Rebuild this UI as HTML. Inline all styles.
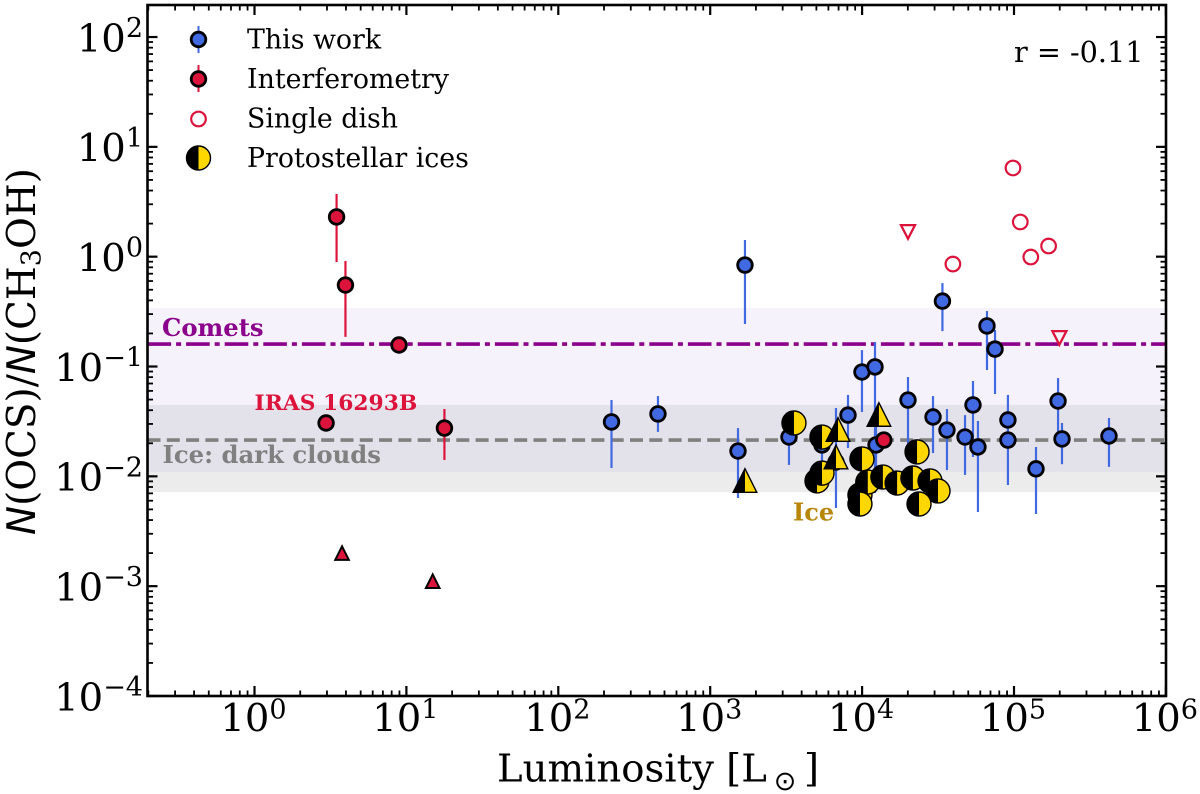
<!DOCTYPE html>
<html lang="en">
<head>
<meta charset="utf-8">
<title>N(OCS)/N(CH3OH) vs Luminosity</title>
<style>
html,body{margin:0;padding:0;background:#fff;}
svg{display:block;}
text{font-family:"DejaVu Serif","Liberation Serif",serif;fill:#000;}
</style>
</head>
<body>
<svg id="chart" xmlns="http://www.w3.org/2000/svg" width="1200" height="794" viewBox="0 0 1200 794">
  <rect x="0" y="0" width="1200" height="794" fill="#fff"/>
  <g id="bands"></g>
  <g id="reflines"></g>
  <g id="errs"></g>
  <g id="marks"></g>
  <g id="annotations">
    <text x="162" y="336" font-size="24.3" font-weight="bold" style="fill:#8b008b">Comets</text>
    <text x="162.5" y="463" font-size="24.3" font-weight="bold" style="fill:#808080">Ice: dark clouds</text>
    <text x="254.5" y="410" font-size="21.8" font-weight="bold" style="fill:#dc143c">IRAS 16293B</text>
    <text x="793" y="520.5" font-size="24" font-weight="bold" style="fill:#b8860b">Ice</text>
    <text x="1014" y="62" font-size="28.7">r = -0.11</text>
  </g>
  <g id="legend">
    <text x="247" y="48.5" font-size="26.8">This work</text>
    <text x="247" y="88" font-size="26.8">Interferometry</text>
    <text x="247" y="127.5" font-size="26.8">Single dish</text>
    <text x="247" y="167" font-size="26.8">Protostellar ices</text>
  </g>
  <g id="axes"></g>
  <text x="497" y="781.5" font-size="38.6">Luminosity [L</text>
  <text x="785" y="790" font-size="27" text-anchor="middle" style="font-family:'DejaVu Sans',sans-serif">&#8857;</text>
  <text x="804" y="781.5" font-size="38.6">]</text>
  <text transform="translate(35,535) rotate(-90)" font-size="38.9"><tspan font-style="italic" style="font-family:'DejaVu Sans',sans-serif">N</tspan>(OCS)/<tspan font-style="italic" style="font-family:'DejaVu Sans',sans-serif">N</tspan>(CH<tspan dy="5.5" font-size="27">3</tspan><tspan dy="-5.5">OH)</tspan></text>
</svg>
<script>
// ---- data (luminosity in Lsun, ratio N(OCS)/N(CH3OH)) ----
const blueL  = [224,453,1524,3300,5445,6730,8075,9980,12160,12350,20050,29300,36200,47600,53700,57900,91200,91200,139600,195000,207000,422000,33800,66400,75000,1694];
const blueR  = [0.0313,0.0370,0.0170,0.0228,0.0193,0.0135,0.0361,0.0891,0.0991,0.0193,0.0495,0.0347,0.0264,0.0228,0.0447,0.0185,0.0326,0.0214,0.0117,0.0485,0.0219,0.0233,0.394,0.234,0.144,0.839];
const blueHi = [0.0495,0.0538,0.0275,0.0326,0.0293,0.0419,0.0551,0.141,0.167,0.0293,0.0802,0.0538,0.0410,0.0361,0.0738,0.0319,0.0551,0.0326,0.0185,0.0785,0.0306,0.0340,0.575,0.320,0.215,1.42];
const blueLo = [0.0119,0.0254,0.00635,0.0127,0.00927,0.00515,0.0181,0.0385,0.00705,0.00927,0.0193,0.0163,0.0114,0.0103,0.0150,0.00473,0.0214,0.00834,0.00454,0.0248,0.0129,0.0122,0.210,0.0929,0.0562,0.244];

const redL  = [3.47,3.97,8.94,2.96,17.8,13900];
const redR  = [2.30,0.552,0.157,0.0306,0.0275,0.0214];
const redHi = [3.72,0.914,0.182,0.0306,0.0410,0.0214];
const redLo = [0.895,0.186,0.136,0.0306,0.0141,0.0214];

const redLimitL = [3.77,14.9];
const redLimitR = [0.00200,0.00111];

const dishL = [98500,110000,129000,169000,39600];
const dishR = [6.42,2.07,0.993,1.25,0.857];

const dishLimitL = [20050,199000];
const dishLimitR = [1.68,0.182];

const iceL = [3560,5445,5050,5445,9980,9680,10900,9680,13700,17000,21600,23000,28000,31600,23700];
const iceR = [0.0306,0.0228,0.00908,0.0107,0.0144,0.00676,0.00887,0.00560,0.00986,0.00869,0.00966,0.0167,0.00908,0.00736,0.00560];

const iceTriL = [1694,6940,6730,12900];
const iceTriR = [0.00916,0.0267,0.0150,0.0366];

const cometBand = [0.0110,0.341];
const cloudBand = [0.00719,0.0447];
const cometLine = [0.160];
const cloudLine = [0.0214];

const xTickExps = [0,1,2,3,4,5,6];
const yTickExps = [-4,-3,-2,-1,0,1,2];
const minorMultipliers = [2,3,4,5,6,7,8,9];

// ---- axes ----
const plotLeft = 147.5, plotRight = 1166, plotTop = 5, plotBottom = 696;
function xAt(v){ return 254.5 + 151.9 * Math.log10(v); }
function yAt(v){ return 696 - 109.83 * (Math.log10(v) + 4); }

const NS = 'http://www.w3.org/2000/svg';
function mk(tag, attrs, parent){
  const el = document.createElementNS(NS, tag);
  for (const k in attrs) el.setAttribute(k, attrs[k]);
  parent.appendChild(el);
  return el;
}
const bandsG = document.getElementById('bands');
const linesG = document.getElementById('reflines');
const errsG = document.getElementById('errs');
const marksG = document.getElementById('marks');
const axesG = document.getElementById('axes');
const legendG = document.getElementById('legend');

const BLUE = '#4169e1', RED = '#dc143c', GOLD = '#ffd700';
const PT_R = 7.3, PT_SW = 2.8;

function bandRect(range, fill, opacity, parent){
  return mk('rect', {x: plotLeft, width: plotRight - plotLeft, y: yAt(range[1]), height: yAt(range[0]) - yAt(range[1]), fill: fill, 'fill-opacity': opacity}, parent);
}
const cometBandEl = bandRect(cometBand, '#9370db', 0.09, bandsG);


const cloudBandEl = bandRect(cloudBand, '#808080', 0.15, bandsG);



const cometLineEl = mk('line', {x1: plotLeft, x2: plotRight, y1: yAt(cometLine[0]), y2: yAt(cometLine[0]), stroke: '#8b008b', 'stroke-width': 3.6, 'stroke-dasharray': '23.6 5 5 5'}, linesG);


const cloudLineEl = mk('line', {x1: plotLeft, x2: plotRight, y1: yAt(cloudLine[0]), y2: yAt(cloudLine[0]), stroke: '#808080', 'stroke-width': 3.6, 'stroke-dasharray': '13 6.3'}, linesG);



// ---- marker helpers ----
function circle(cx, cy, r, fill, stroke, sw, parent){
  return mk('circle', {cx: cx, cy: cy, r: r, fill: fill, stroke: stroke, 'stroke-width': sw}, parent);
}
function triUp(cx, cy, h, w, fill, stroke, sw, parent){
  return mk('path', {d: 'M' + cx + ' ' + (cy - h) + 'L' + (cx - w) + ' ' + (cy + h) + 'L' + (cx + w) + ' ' + (cy + h) + 'Z', fill: fill, stroke: stroke, 'stroke-width': sw, 'stroke-linejoin': 'miter'}, parent);
}
function triDown(cx, cy, h, w, fill, stroke, sw, parent){
  return mk('path', {d: 'M' + (cx - w) + ' ' + (cy - h) + 'L' + (cx + w) + ' ' + (cy - h) + 'L' + cx + ' ' + (cy + h) + 'Z', fill: fill, stroke: stroke, 'stroke-width': sw, 'stroke-linejoin': 'miter'}, parent);
}
function halfCircle(cx, cy, r, parent){
  const g = mk('g', {}, parent);
  mk('circle', {cx: cx, cy: cy, r: r, fill: GOLD}, g);
  mk('path', {d: 'M' + cx + ' ' + (cy - r) + 'A' + r + ' ' + r + ' 0 0 0 ' + cx + ' ' + (cy + r) + 'Z', fill: '#000'}, g);
  mk('circle', {cx: cx, cy: cy, r: r, fill: 'none', stroke: '#000', 'stroke-width': 1.4}, g);
  return g;
}
function halfTriangle(cx, cy, parent){
  const g = mk('g', {}, parent);
  const h = 11.8, w = 11.8;
  mk('path', {d: 'M' + cx + ' ' + (cy - h) + 'L' + (cx + w) + ' ' + (cy + h) + 'L' + cx + ' ' + (cy + h) + 'Z', fill: GOLD}, g);
  mk('path', {d: 'M' + cx + ' ' + (cy - h) + 'L' + (cx - w) + ' ' + (cy + h) + 'L' + cx + ' ' + (cy + h) + 'Z', fill: '#000'}, g);
  mk('path', {d: 'M' + cx + ' ' + (cy - h) + 'L' + (cx - w) + ' ' + (cy + h) + 'L' + (cx + w) + ' ' + (cy + h) + 'Z', fill: 'none', stroke: '#000', 'stroke-width': 1.4}, g);
  return g;
}

// ---- series ----
for (let i = 0; i < blueL.length; i++) {
  const e = mk('line', {x1: xAt(blueL[i]), x2: xAt(blueL[i]), y1: yAt(blueHi[i]), y2: yAt(blueLo[i]), stroke: BLUE, 'stroke-width': 2.2}, errsG);
  
  
}
for (let i = 0; i < redL.length; i++) {
  const e = mk('line', {x1: xAt(redL[i]), x2: xAt(redL[i]), y1: yAt(redHi[i]), y2: yAt(redLo[i]), stroke: RED, 'stroke-width': 2.2}, errsG);
  
  
}
for (let i = 0; i < blueL.length; i++) {
  const c = circle(xAt(blueL[i]), yAt(blueR[i]), PT_R, BLUE, '#000', PT_SW, marksG);
  
  
}
for (let i = 0; i < iceL.length; i++) {
  const c = halfCircle(xAt(iceL[i]), yAt(iceR[i]), 12, marksG);
  
  
}
for (let i = 0; i < iceTriL.length; i++) {
  const c = halfTriangle(xAt(iceTriL[i]), yAt(iceTriR[i]), marksG);
  
  
}
for (let i = 0; i < redL.length; i++) {
  const c = circle(xAt(redL[i]), yAt(redR[i]), PT_R, RED, '#000', PT_SW, marksG);
  
  
}
for (let i = 0; i < redLimitL.length; i++) {
  const c = triUp(xAt(redLimitL[i]), yAt(redLimitR[i]), 6.8, 6.8, RED, '#000', 2, marksG);
  
  
}
for (let i = 0; i < dishL.length; i++) {
  const c = circle(xAt(dishL[i]), yAt(dishR[i]), PT_R, '#fff', RED, 2.2, marksG);
  
  
}
for (let i = 0; i < dishLimitL.length; i++) {
  const c = triDown(xAt(dishLimitL[i]), yAt(dishLimitR[i]), 6.8, 7, 'none', RED, 2.3, marksG);
  
  
}

// ---- legend markers ----
const legendX = 199;
const lg1e = mk('line', {x1: legendX - 0.5, x2: legendX - 0.5, y1: 26, y2: 53, stroke: BLUE, 'stroke-width': 2}, legendG);


const lg1 = circle(legendX - 0.5, 39.5, PT_R, BLUE, '#000', PT_SW, legendG);


const lg2e = mk('line', {x1: legendX - 0.5, x2: legendX - 0.5, y1: 65, y2: 92, stroke: RED, 'stroke-width': 2}, legendG);


const lg2 = circle(legendX - 0.5, 79, PT_R, RED, '#000', PT_SW, legendG);


const lg3 = circle(legendX - 0.5, 119, PT_R, '#fff', RED, 2.2, legendG);


const lg4 = halfCircle(legendX - 0.5, 158, 12, legendG);



// ---- ticks ----
function tick(x1, y1, x2, y2, w){
  return mk('line', {x1: x1, y1: y1, x2: x2, y2: y2, stroke: '#000', 'stroke-width': w}, axesG);
}
const majorLen = 10, minorLen = 5.5, majorW = 2.2, minorW = 1.8;
for (let i = 0; i < xTickExps.length; i++) {
  const v = Math.pow(10, xTickExps[i]);
  const x = xAt(v);
  const a = tick(x, plotBottom, x, plotBottom - majorLen, majorW);
  
  
  const b = tick(x, plotTop, x, plotTop + majorLen, majorW);
  
  
  const label = mk('text', {x: x - 1, y: 731, 'font-size': 38.5, 'text-anchor': 'middle'}, axesG);
  
  
  const t1 = mk('tspan', {}, label);
  t1.textContent = '10';
  const t2 = mk('tspan', {dy: -12.5, 'font-size': 27}, label);
  t2.textContent = String(xTickExps[i]);
}
for (let d = -1; d < 6; d++) {
  for (let j = 0; j < minorMultipliers.length; j++) {
    const v = minorMultipliers[j] * Math.pow(10, d);
    const x = xAt(v);
    if (x <= plotLeft || x >= plotRight) continue;
    const a = tick(x, plotBottom, x, plotBottom - minorLen, minorW);
    
    
    const b = tick(x, plotTop, x, plotTop + minorLen, minorW);
    
    
  }
}
for (let i = 0; i < yTickExps.length; i++) {
  const v = Math.pow(10, yTickExps[i]);
  const y = yAt(v);
  const a = tick(plotLeft, y, plotLeft + majorLen, y, majorW);
  
  
  const b = tick(plotRight, y, plotRight - majorLen, y, majorW);
  
  
  const label = mk('text', {x: 143, y: y + 14.3, 'font-size': 38.5, 'text-anchor': 'end'}, axesG);
  
  
  const t1 = mk('tspan', {}, label);
  t1.textContent = '10';
  const t2 = mk('tspan', {dy: -14.3, 'font-size': 27}, label);
  t2.textContent = String(yTickExps[i]).replace('-', '\u2212');
}
for (let d = -4; d < 3; d++) {
  for (let j = 0; j < minorMultipliers.length; j++) {
    const v = minorMultipliers[j] * Math.pow(10, d);
    const y = yAt(v);
    if (y <= plotTop || y >= plotBottom) continue;
    const a = tick(plotLeft, y, plotLeft + minorLen, y, minorW);
    
    
    const b = tick(plotRight, y, plotRight - minorLen, y, minorW);
    
    
  }
}
const frame = mk('rect', {x: plotLeft, y: plotTop, width: plotRight - plotLeft, height: plotBottom - plotTop, fill: 'none', stroke: '#000', 'stroke-width': 2.6}, axesG);


</script>
</body>
</html>
